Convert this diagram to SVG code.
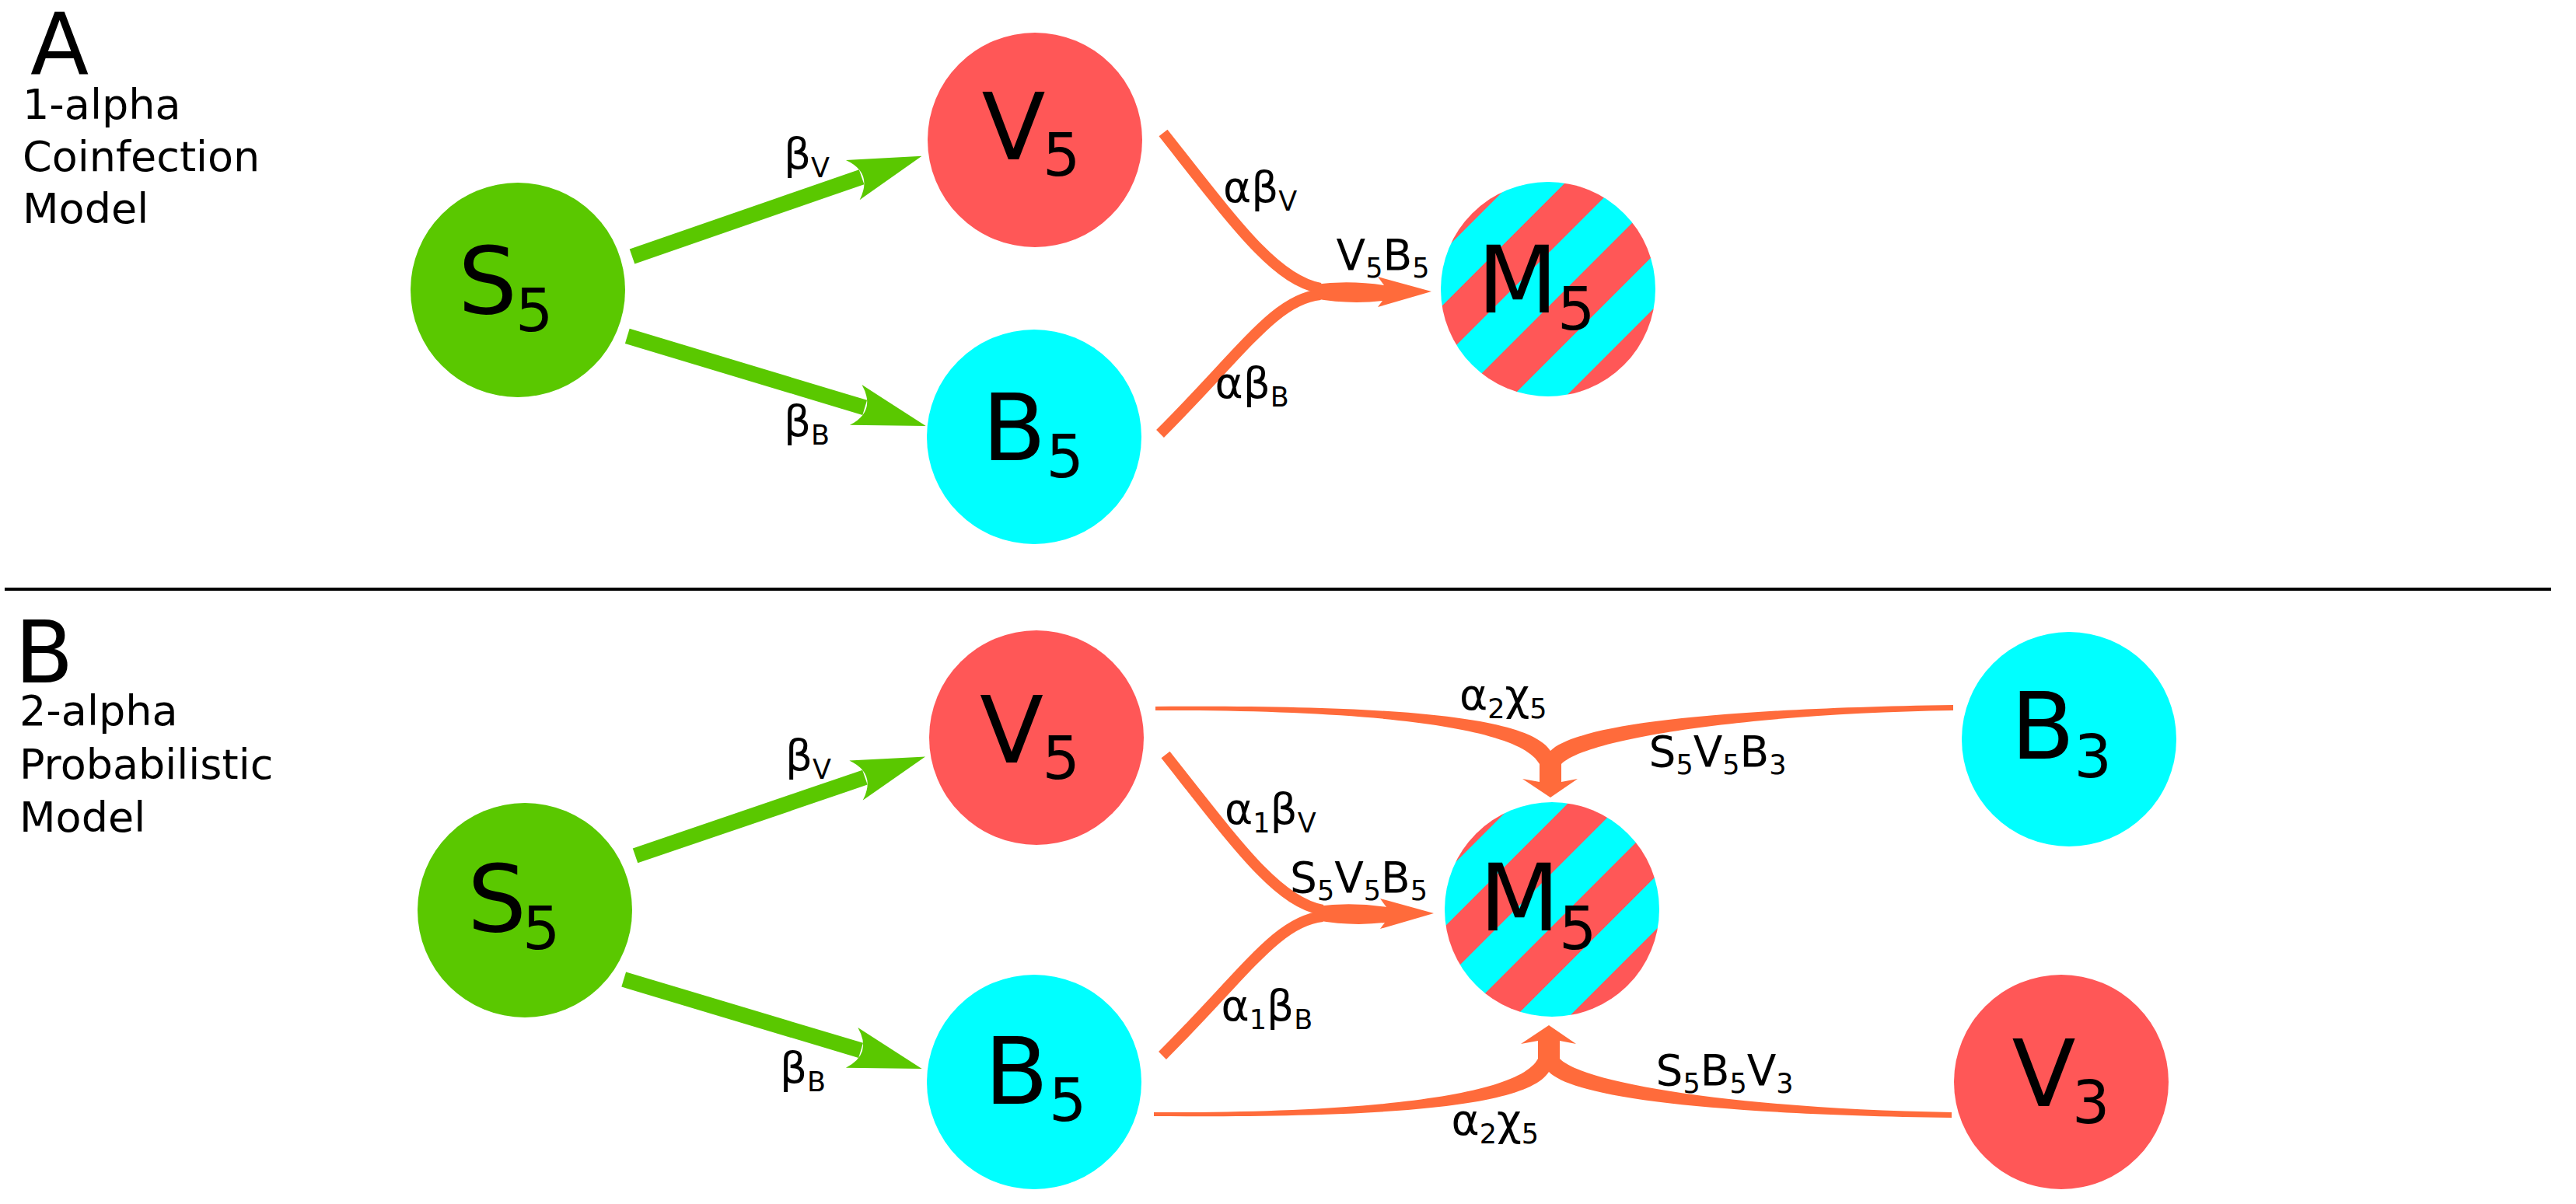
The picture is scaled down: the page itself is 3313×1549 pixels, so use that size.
<svg xmlns="http://www.w3.org/2000/svg" width="3313" height="1549" viewBox="0 0 3313 1549">
<style>
text { font-family: "DejaVu Sans", "Liberation Sans", sans-serif; fill: #000; }
.title { font-size: 110px; }
.cap { font-size: 54px; }
.nm { font-size: 120px; }
.ns { font-size: 76px; }
.lb { font-size: 55px; }
.ls { font-size: 35px; }
.garrow { stroke: #5ac800; stroke-width: 20; fill: none; marker-end: url(#gh); }
.oline { stroke: #ff6b3b; stroke-width: 14; fill: none; }
.ofill { fill: #ff6b3b; }
.green { fill: #5ac800; }
.red { fill: #ff5757; }
.cyan { fill: #00ffff; }
</style>
<defs>
<marker id="gh" markerUnits="userSpaceOnUse" viewBox="-100 -30 100 60" markerWidth="100" markerHeight="60" refX="-82" refY="0" orient="auto">
<path d="M0,0 L-94,-27 Q-66,0 -94,27 Z" fill="#5ac800"/>
</marker>
<pattern id="stripesA" patternUnits="userSpaceOnUse" x="0" y="1638.4" width="4000" height="97.4" patternTransform="rotate(-45)">
<rect x="0" y="0" width="4000" height="48.9" fill="#00ffff"/>
<rect x="0" y="48.7" width="4000" height="48.7" fill="#ff5757"/>
</pattern>
<pattern id="stripesB" patternUnits="userSpaceOnUse" x="0" y="2205.5" width="4000" height="97.4" patternTransform="rotate(-45)">
<rect x="0" y="0" width="4000" height="48.9" fill="#00ffff"/>
<rect x="0" y="48.7" width="4000" height="48.7" fill="#ff5757"/>
</pattern>
</defs>
<rect x="0" y="0" width="3313" height="1549" fill="#fff"/>

<g id="panel-titles">
<text class="title" x="39" y="96">A</text>
<text class="cap" x="29" y="153">1-alpha</text>
<text class="cap" x="29" y="220">Coinfection</text>
<text class="cap" x="29" y="287">Model</text>
<line x1="6" y1="758" x2="3281" y2="758" stroke="#000" stroke-width="4"/>
<text class="title" x="19" y="878">B</text>
<text class="cap" x="25" y="933">2-alpha</text>
<text class="cap" x="25" y="1001.5">Probabilistic</text>
<text class="cap" x="25" y="1070">Model</text>
</g>

<g id="connectors">
<!-- Panel A -->
<path class="garrow" d="M813,330 L1108.1,227.7"/>
<path class="garrow" d="M806.8,432.4 L1112.2,524.4"/>
<g id="A-merge">
<path class="oline" d="M1496,171 C1590,290 1640,360 1698,371"/>
<path class="oline" d="M1492,558 C1600,450 1640,385 1698,379"/>
<path class="ofill" d="M1690,366 Q1735,360 1780,367 L1772,356 L1841,375 L1772,395 L1778,387 Q1735,392 1690,384 Z"/>
</g>
<!-- Panel B -->
<path class="garrow" d="M817,1100.9 L1112.4,1000.1"/>
<path class="garrow" d="M802.2,1260 L1107.1,1351.4"/>
<g id="B-merge" transform="translate(3,800)">
<path class="oline" d="M1496,171 C1590,290 1640,360 1698,371"/>
<path class="oline" d="M1492,558 C1600,450 1640,385 1698,379"/>
<path class="ofill" d="M1690,366 Q1735,360 1780,367 L1772,356 L1841,375 L1772,395 L1778,387 Q1735,392 1690,384 Z"/>
</g>
<path id="B-top-merge" class="ofill" d="M1486,909 C1780,907 1965,920 1994,966 C2025,935 2180,912 2512,907 L2512,914 C2250,918 2040,950 2008,983 L2008,1006 L2029,1002 L1994,1026 L1958,1002 L1980,1006 L1980,983 C1955,935 1760,913 1486,914 Z"/>
<path id="B-bottom-merge" class="ofill" transform="matrix(1,0,0,-1,-2,2345)" d="M1486,909 C1780,907 1965,920 1994,966 C2025,935 2180,912 2512,907 L2512,914 C2250,918 2040,950 2008,983 L2008,1006 L2029,1002 L1994,1026 L1958,1002 L1980,1006 L1980,983 C1955,935 1760,913 1486,914 Z"/>
</g>

<g id="edge-labels">
<text class="lb" x="1008" y="216.6">β<tspan class="ls" dy="11">V</tspan></text>
<text class="lb" x="1008" y="561">β<tspan class="ls" dy="11">B</tspan></text>
<text class="lb" x="1573" y="259.5">αβ<tspan class="ls" dy="11">V</tspan></text>
<text class="lb" x="1562.5" y="511.5">αβ<tspan class="ls" dy="11">B</tspan></text>
<text class="lb" x="1718.5" y="346.7">V<tspan class="ls" dy="10">5</tspan><tspan dy="-10">B</tspan><tspan class="ls" dy="10">5</tspan></text>

<text class="lb" x="1010" y="991">β<tspan class="ls" dy="11">V</tspan></text>
<text class="lb" x="1003" y="1392.5">β<tspan class="ls" dy="11">B</tspan></text>
<text class="lb" x="1575" y="1059.5">α<tspan class="ls" dy="11">1</tspan><tspan dy="-11">β</tspan><tspan class="ls" dy="11">V</tspan></text>
<text class="lb" x="1570.5" y="1313">α<tspan class="ls" dy="11">1</tspan><tspan dy="-11">β</tspan><tspan class="ls" dy="11">B</tspan></text>
<text class="lb" x="1659" y="1147.5">S<tspan class="ls" dy="10">5</tspan><tspan dy="-10">V</tspan><tspan class="ls" dy="10">5</tspan><tspan dy="-10">B</tspan><tspan class="ls" dy="10">5</tspan></text>
<text class="lb" x="1877" y="913">α<tspan class="ls" dy="11">2</tspan><tspan dy="-11">χ</tspan><tspan class="ls" dy="11">5</tspan></text>
<text class="lb" x="2120.5" y="986">S<tspan class="ls" dy="10">5</tspan><tspan dy="-10">V</tspan><tspan class="ls" dy="10">5</tspan><tspan dy="-10">B</tspan><tspan class="ls" dy="10">3</tspan></text>
<text class="lb" x="2129.5" y="1396">S<tspan class="ls" dy="10">5</tspan><tspan dy="-10">B</tspan><tspan class="ls" dy="10">5</tspan><tspan dy="-10">V</tspan><tspan class="ls" dy="10">3</tspan></text>
<text class="lb" x="1866.5" y="1460">α<tspan class="ls" dy="11">2</tspan><tspan dy="-11">χ</tspan><tspan class="ls" dy="11">5</tspan></text>
</g>

<g id="node-A-S5"><circle class="green" cx="666" cy="373" r="138"/><text class="nm" x="589" y="402.5">S<tspan class="ns" x="663" y="425.5">5</tspan></text></g>
<g id="node-A-V5"><circle class="red" cx="1331" cy="180" r="138"/><text class="nm" x="1262.5" y="205.4">V<tspan class="ns" x="1341" y="226">5</tspan></text></g>
<g id="node-A-B5"><circle class="cyan" cx="1330" cy="562" r="138"/><text class="nm" x="1263" y="592">B<tspan class="ns" x="1345.6" y="614">5</tspan></text></g>
<g id="node-A-M5"><circle fill="url(#stripesA)" cx="1991" cy="372" r="138"/><text class="nm" x="1900" y="402">M<tspan class="ns" x="2003" y="423.5">5</tspan></text></g>

<g id="node-B-S5"><circle class="green" cx="675" cy="1171" r="138"/><text class="nm" x="601" y="1197.5">S<tspan class="ns" x="672" y="1221">5</tspan></text></g>
<g id="node-B-V5"><circle class="red" cx="1333" cy="949" r="138"/><text class="nm" x="1260" y="981">V<tspan class="ns" x="1340.5" y="1001.5">5</tspan></text></g>
<g id="node-B-B5"><circle class="cyan" cx="1330" cy="1392" r="138"/><text class="nm" x="1266" y="1419.5">B<tspan class="ns" x="1349" y="1442">5</tspan></text></g>
<g id="node-B-M5"><circle fill="url(#stripesB)" cx="1996" cy="1170" r="138"/><text class="nm" x="1902.5" y="1197">M<tspan class="ns" x="2005" y="1221">5</tspan></text></g>
<g id="node-B-B3"><circle class="cyan" cx="2661" cy="951" r="138"/><text class="nm" x="2586" y="976">B<tspan class="ns" x="2667.5" y="1000">3</tspan></text></g>
<g id="node-B-V3"><circle class="red" cx="2651" cy="1392" r="138"/><text class="nm" x="2587.5" y="1422.5">V<tspan class="ns" x="2665" y="1445">3</tspan></text></g>
</svg>
